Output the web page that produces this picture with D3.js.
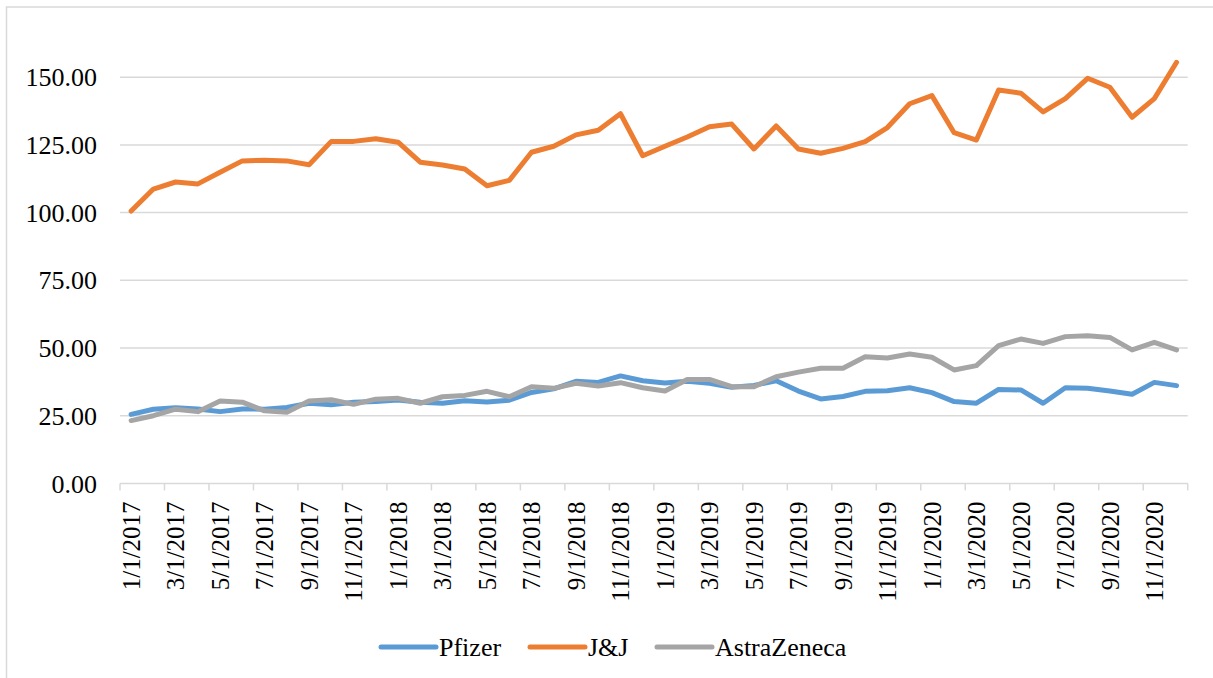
<!DOCTYPE html>
<html>
<head>
<meta charset="utf-8">
<script src="https://cdn.jsdelivr.net/npm/d3@7/dist/d3.min.js"></script>
<style>
  html,body{margin:0;padding:0;background:#fff;}
  svg{display:block;}
  text{font-family:"Liberation Serif","Times New Roman",serif;fill:#000;}
</style>
</head>
<body>
<div id="chart"></div>
<script>
// monthly categories 1/1/2017 .. 12/1/2020
const months = [];
for (let y = 2017; y <= 2020; y++) for (let m = 1; m <= 12; m++) months.push(`${m}/1/${y}`);

const pfizer = [25.5,27.4,27.9,27.5,26.5,27.5,27.4,28.0,29.6,29.0,30.0,30.2,
                30.8,30.0,29.6,30.5,30.1,30.7,33.6,34.9,37.7,37.3,39.7,37.9,
                37.1,37.7,37.0,35.5,36.2,37.9,34.1,31.2,32.1,34.0,34.2,35.3,
                33.5,30.2,29.6,34.7,34.5,29.6,35.3,35.1,34.1,32.9,37.3,36.1];
const jnj = [100.6,108.7,111.3,110.6,114.9,119.1,119.3,119.1,117.7,126.3,126.3,127.3,
             126.0,118.6,117.6,116.1,109.9,111.9,122.3,124.5,128.7,130.4,136.5,121.0,
             124.5,127.9,131.7,132.7,123.5,132.0,123.5,121.9,123.7,126.2,131.4,140.2,
             143.2,129.5,126.8,145.3,144.1,137.2,142.1,149.6,146.3,135.2,142.1,155.5];
const astra = [23.2,25.0,27.4,26.5,30.4,30.0,26.8,26.3,30.4,30.9,29.2,31.1,
               31.4,29.6,32.0,32.5,34.0,32.0,35.7,35.1,37.0,36.0,37.2,35.3,
               34.1,38.4,38.4,35.7,35.7,39.4,41.1,42.5,42.5,46.8,46.3,47.8,
               46.6,41.9,43.5,50.9,53.3,51.7,54.2,54.5,53.9,49.3,52.1,49.3];
const yTicks = [0,25,50,75,100,125,150];

const series = [
  {name:"Pfizer", values:pfizer, color:"#5b9bd5"},
  {name:"J&J", values:jnj, color:"#ed7d31"},
  {name:"AstraZeneca", values:astra, color:"#a5a5a5"}
];

const W = 1213, H = 678;
const plot = {left:120, right:1187.7, top:9.5, bottom:483.4};

const svg = d3.select("#chart").append("svg").attr("width",W).attr("height",H);

// chart frame (right/bottom run off the picture)
svg.append("rect").attr("x",6.5).attr("y",7).attr("width",1400).attr("height",900)
  .attr("fill","none").attr("stroke","#d9d9d9").attr("stroke-width",1.5);

const x = d3.scaleBand().domain(months).range([plot.left, plot.right]);
const xc = d => x(d) + x.bandwidth()/2;
const y = d3.scaleLinear().domain([0,175]).range([plot.bottom, plot.top]);

// gridlines
svg.append("g").selectAll("line").data(yTicks.filter(d=>d>0)).join("line")
  .attr("x1",plot.left).attr("x2",plot.right)
  .attr("y1",d=>y(d)).attr("y2",d=>y(d))
  .attr("stroke","#d9d9d9").attr("stroke-width",1.5);

// y labels
svg.append("g").selectAll("text").data(yTicks).join("text")
  .attr("x",97).attr("y",d=>y(d)).attr("dy","0.35em")
  .attr("text-anchor","end").attr("font-size",26)
  .text(d3.format(".2f"));

// x axis line + ticks at every 2nd category boundary
const ax = svg.append("g");
ax.append("line").attr("x1",plot.left).attr("x2",plot.right)
  .attr("y1",plot.bottom).attr("y2",plot.bottom)
  .attr("stroke","#d9d9d9").attr("stroke-width",1.5);
const tickX = months.filter((d,i)=>i%2===0).map(d=>x(d)).concat([plot.right]);
ax.selectAll("line.tk").data(tickX).join("line").attr("class","tk")
  .attr("x1",d=>d).attr("x2",d=>d).attr("y1",plot.bottom).attr("y2",plot.bottom+7)
  .attr("stroke","#d9d9d9").attr("stroke-width",1.5);
ax.selectAll("text").data(months.filter((d,i)=>i%2===0)).join("text")
  .attr("transform",d=>`translate(${xc(d)},${plot.bottom+18}) rotate(-90)`)
  .attr("text-anchor","end").attr("dy","0.35em").attr("font-size",25)
  .text(d=>d);

// lines
const line = d3.line().x((v,i)=>xc(months[i])).y(v=>y(v));
svg.append("g").selectAll("path").data(series).join("path")
  .attr("d",s=>line(s.values)).attr("fill","none")
  .attr("stroke",s=>s.color).attr("stroke-width",5)
  .attr("stroke-linejoin","round").attr("stroke-linecap","round");

// legend
const legX = [381, 530, 657];
const lg = svg.append("g").selectAll("g").data(series).join("g")
  .attr("transform",(s,i)=>`translate(${legX[i]},647)`);
lg.append("line").attr("x1",0).attr("x2",55).attr("y1",0).attr("y2",0)
  .attr("stroke",s=>s.color).attr("stroke-width",5).attr("stroke-linecap","round");
lg.append("text").attr("x",58).attr("y",9).attr("font-size",26).text(s=>s.name);
</script>
</body>
</html>
